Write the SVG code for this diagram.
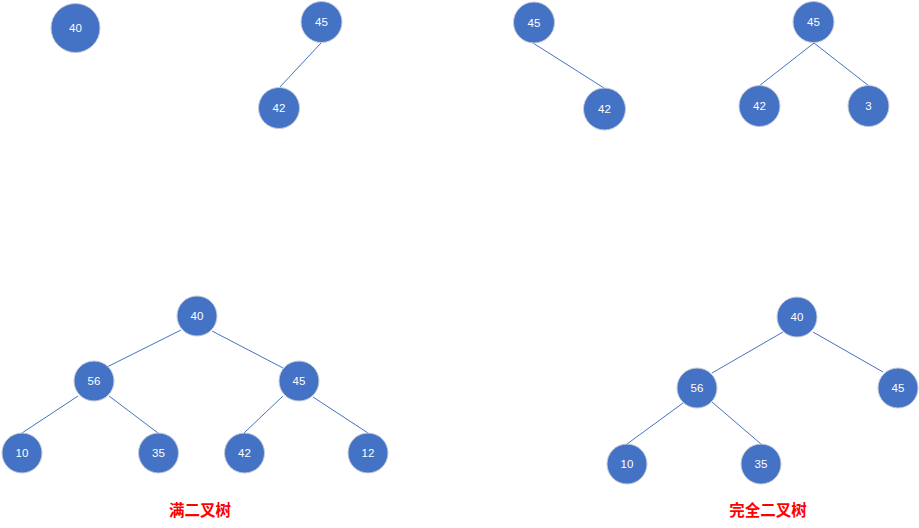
<svg xmlns="http://www.w3.org/2000/svg" width="919" height="528" viewBox="0 0 919 528">
<style>
.n circle{fill:#4472C4;stroke:#c5cad8;stroke-width:1}
.n text{fill:#ffffff;font-family:"Liberation Sans","DejaVu Sans",sans-serif;font-size:11.5px;text-anchor:middle;dominant-baseline:central}
#edges line{stroke:#4472C4;stroke-width:1}
.lbl{fill:#FF0000;font-family:"Noto Sans CJK SC",sans-serif;font-weight:bold;font-size:15.5px;text-anchor:middle}
</style>
<rect width="919" height="528" fill="#ffffff"/>
<g id="edges">
<line x1="321" y1="43" x2="279" y2="88"/>
<line x1="533" y1="43" x2="604" y2="88"/>
<line x1="814" y1="43" x2="759" y2="86"/>
<line x1="814" y1="43" x2="869" y2="86"/>
<line x1="181" y1="330" x2="107" y2="367"/>
<line x1="212" y1="331" x2="283" y2="368"/>
<line x1="78" y1="396" x2="22" y2="433"/>
<line x1="109" y1="396" x2="158" y2="433"/>
<line x1="283" y1="396" x2="244" y2="433"/>
<line x1="313" y1="397" x2="368" y2="433"/>
<line x1="783" y1="332" x2="712" y2="373"/>
<line x1="813" y1="332" x2="883" y2="372"/>
<line x1="683" y1="403" x2="627" y2="444"/>
<line x1="712" y1="402" x2="761" y2="444"/>
</g>
<g id="t1-40" class="n"><circle cx="75.5" cy="28" r="24.5"/><text x="75.5" y="28">40</text></g>
<g id="t2-45" class="n"><circle cx="321.5" cy="22" r="20.5"/><text x="321.5" y="22">45</text></g>
<g id="t2-42" class="n"><circle cx="279" cy="108" r="20.5"/><text x="279" y="108">42</text></g>
<g id="t3-45" class="n"><circle cx="534" cy="22.5" r="20.5"/><text x="534" y="22.5">45</text></g>
<g id="t3-42" class="n"><circle cx="604.5" cy="109" r="21"/><text x="604.5" y="109">42</text></g>
<g id="t4-45" class="n"><circle cx="813.5" cy="22" r="20.5"/><text x="813.5" y="22">45</text></g>
<g id="t4-42" class="n"><circle cx="759.5" cy="106" r="20.5"/><text x="759.5" y="106">42</text></g>
<g id="t4-3" class="n"><circle cx="868.5" cy="106" r="20.5"/><text x="868.5" y="106">3</text></g>
<g id="f-40" class="n"><circle cx="197" cy="316" r="20"/><text x="197" y="316">40</text></g>
<g id="f-56" class="n"><circle cx="94" cy="381" r="20"/><text x="94" y="381">56</text></g>
<g id="f-45" class="n"><circle cx="299" cy="381" r="20"/><text x="299" y="381">45</text></g>
<g id="f-10" class="n"><circle cx="22" cy="453" r="20"/><text x="22" y="453">10</text></g>
<g id="f-35" class="n"><circle cx="158.5" cy="453" r="20"/><text x="158.5" y="453">35</text></g>
<g id="f-42" class="n"><circle cx="244.5" cy="453" r="20"/><text x="244.5" y="453">42</text></g>
<g id="f-12" class="n"><circle cx="368" cy="453" r="20"/><text x="368" y="453">12</text></g>
<g id="c-40" class="n"><circle cx="797" cy="317" r="20"/><text x="797" y="317">40</text></g>
<g id="c-56" class="n"><circle cx="697" cy="388" r="20"/><text x="697" y="388">56</text></g>
<g id="c-45" class="n"><circle cx="898" cy="388" r="20"/><text x="898" y="388">45</text></g>
<g id="c-10" class="n"><circle cx="627" cy="464" r="20"/><text x="627" y="464">10</text></g>
<g id="c-35" class="n"><circle cx="761" cy="464" r="20"/><text x="761" y="464">35</text></g>
<g id="labels">
<text class="lbl" x="200" y="516">满二叉树</text>
<text class="lbl" x="768" y="516">完全二叉树</text>
</g>
</svg>
